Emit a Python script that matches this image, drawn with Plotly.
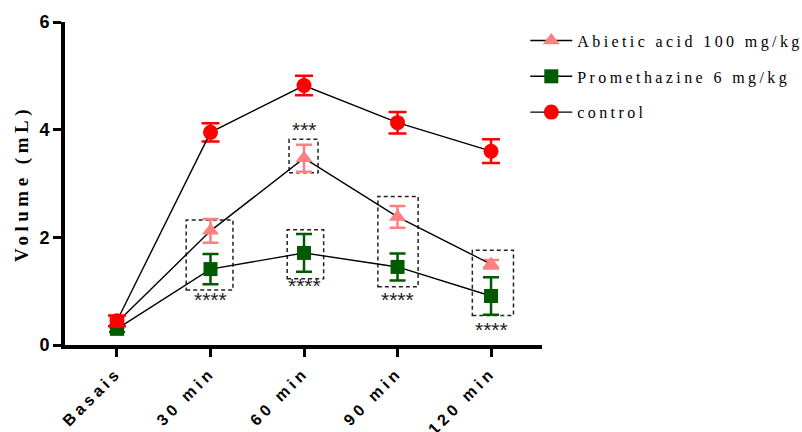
import plotly.graph_objects as go

categories = ["Basais", "30 min", "60 min", "90 min", "120 min"]
x_idx = [0, 1, 2, 3, 4]

abietic = [0.42, 2.12, 3.47, 2.38, 1.50]
abietic_err = [0.10, 0.22, 0.25, 0.20, 0.08]

prometh = [0.30, 1.41, 1.71, 1.45, 0.91]
prometh_err = [0.06, 0.28, 0.35, 0.25, 0.35]

control = [0.45, 3.95, 4.82, 4.13, 3.60]
control_err = [0.10, 0.17, 0.18, 0.20, 0.22]

y_ticks = [0, 2, 4, 6]

# significance boxes (x0, x1, y0, y1) and star labels (x, y, text)
sig_boxes = [
    (0.74, 1.24, 1.02, 2.32),
    (1.84, 2.15, 3.20, 3.82),
    (1.82, 2.21, 1.23, 2.14),
    (2.79, 3.22, 1.08, 2.76),
    (3.80, 4.24, 0.55, 1.76),
]
sig_labels = [
    (1, 0.85, "****"),
    (2, 1.10, "****"),
    (2, 4.00, "***"),
    (3, 0.85, "****"),
    (4, 0.28, "****"),
]

fig = go.Figure()

series = [
    ("Abietic acid 100 mg/kg", abietic, abietic_err, "#FF8080", "triangle-up", 15, 8),
    ("Promethazine 6 mg/kg", prometh, prometh_err, "#005A00", "square", 14, 8),
    ("control", control, control_err, "#FF0000", "circle", 15, 9),
]
for i, (name, ys, errs, color, sym, size, cap) in enumerate(series):
    fig.add_trace(go.Scatter(
        x=x_idx, y=ys, name=name, mode="lines+markers",
        line=dict(color="black", width=1.4),
        marker=dict(color=color, symbol=sym, size=size, line=dict(width=0)),
        error_y=dict(type="data", array=errs, color=color, thickness=2.5, width=cap),
        legendgroup=str(i),
    ))

shapes = []
for (x0, x1, y0, y1) in sig_boxes:
    shapes.append(dict(type="rect", xref="x", yref="y", x0=x0, x1=x1, y0=y0, y1=y1,
                       line=dict(color="#222222", width=1.5, dash="4px,3px"),
                       fillcolor="rgba(0,0,0,0)", layer="below"))

annotations = []
for (x, y, t) in sig_labels:
    annotations.append(dict(x=x, y=y, xref="x", yref="y", text=t, showarrow=False,
                            font=dict(family="Liberation Sans", size=21, color="#222222")))

fig.update_layout(
    width=802, height=432,
    margin=dict(l=65, r=260, t=17, b=87),
    paper_bgcolor="white", plot_bgcolor="white",
    showlegend=True,
    legend=dict(x=0.965, y=0.995, xanchor="left", yanchor="top",
                font=dict(family="Liberation Serif", size=16, color="black"),
                tracegroupgap=12, itemwidth=42, bgcolor="rgba(0,0,0,0)"),
    shapes=shapes,
    annotations=annotations,
    xaxis=dict(
        range=[-0.556, 4.545], tickvals=x_idx, ticktext=categories,
        tickangle=-45, showgrid=False, zeroline=False,
        showline=True, linecolor="black", linewidth=4,
        ticks="outside", ticklen=8, tickwidth=3, tickcolor="black",
        tickfont=dict(family="Liberation Sans", size=16, color="black", weight="bold"),
    ),
    yaxis=dict(
        range=[0, 6], tickvals=y_ticks, showgrid=False, zeroline=False,
        showline=True, linecolor="black", linewidth=4,
        ticks="outside", ticklen=8, tickwidth=3, tickcolor="black",
        tickfont=dict(family="Liberation Sans", size=18, color="black", weight="bold"),
        title=dict(text="Volume (mL)", standoff=7,
                   font=dict(family="Liberation Serif", size=19, color="black", weight="bold")),
    ),
)

post = """
var gd = document.getElementById('{plot_id}');
function applySpacing() {
  gd.querySelectorAll('.legendtext').forEach(function(e){ e.style.letterSpacing = '3.4px'; });
  gd.querySelectorAll('.legend [clip-path]').forEach(function(e){ e.removeAttribute('clip-path'); });
  gd.querySelectorAll('.xtick text').forEach(function(e){ e.style.letterSpacing = '4px'; });
  gd.querySelectorAll('.ytitle').forEach(function(e){ e.style.letterSpacing = '4.5px'; });
}
applySpacing();
if (gd.on) { gd.on('plotly_afterplot', applySpacing); }
setTimeout(applySpacing, 50);
"""

fig.write_html("out.html", post_script=post)
